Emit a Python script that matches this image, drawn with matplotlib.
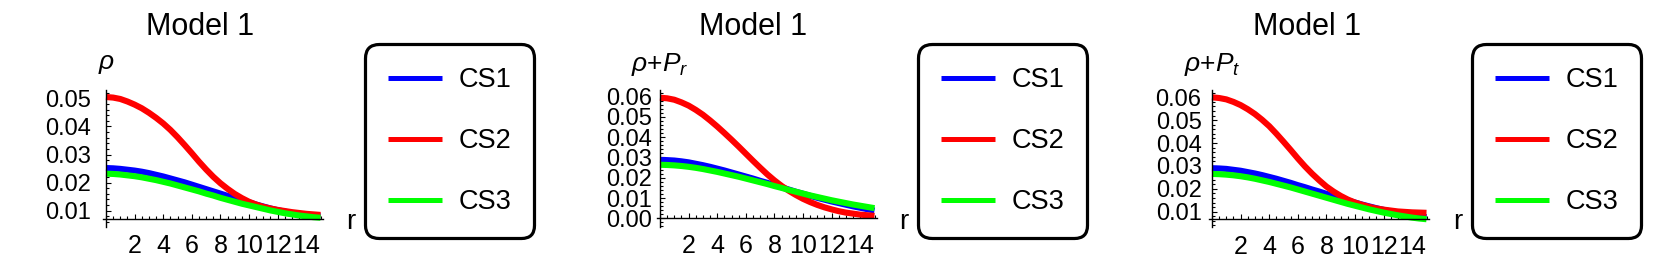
import matplotlib.pyplot as plt
import numpy as np
from matplotlib.ticker import MultipleLocator, FormatStrFormatter

plt.rcParams['font.family'] = ['Liberation Sans', 'DejaVu Sans']
plt.rcParams['mathtext.fontset'] = 'custom'
plt.rcParams['mathtext.rm'] = 'Liberation Sans'
plt.rcParams['mathtext.it'] = 'Liberation Sans:italic'

# radial coordinate, sampled every 0.5
r = np.arange(31) * 0.5

# panel 1: rho
rho_cs1 = [0.0252, 0.0251, 0.0249, 0.0246, 0.0243, 0.0239, 0.0234, 0.0228,
           0.0222, 0.0215, 0.0208, 0.0201, 0.0193, 0.0185, 0.0177, 0.0169,
           0.0161, 0.0153, 0.0145, 0.0137, 0.0130, 0.0122, 0.0115, 0.0108,
           0.0102, 0.0097, 0.0092, 0.0088, 0.0085, 0.0082, 0.0080]
rho_cs2 = [0.0505, 0.0503, 0.0498, 0.0489, 0.0478, 0.0465, 0.0449, 0.0431,
           0.0411, 0.0388, 0.0362, 0.0334, 0.0305, 0.0275, 0.0247, 0.0221,
           0.0198, 0.0178, 0.0160, 0.0145, 0.0132, 0.0122, 0.0114, 0.0108,
           0.0103, 0.0099, 0.0095, 0.0092, 0.0089, 0.0087, 0.0085]
rho_cs3 = [0.0232, 0.0231, 0.0229, 0.0226, 0.0223, 0.0219, 0.0214, 0.0209,
           0.0203, 0.0197, 0.0190, 0.0183, 0.0176, 0.0169, 0.0161, 0.0154,
           0.0146, 0.0139, 0.0132, 0.0125, 0.0119, 0.0113, 0.0107, 0.0101,
           0.0096, 0.0091, 0.0087, 0.0083, 0.0080, 0.0077, 0.0075]

# panel 2: rho + P_r
rpr_cs1 = [0.0288, 0.0287, 0.0285, 0.0281, 0.0276, 0.0269, 0.0262, 0.0254,
           0.0245, 0.0236, 0.0226, 0.0216, 0.0206, 0.0196, 0.0185, 0.0175,
           0.0164, 0.0153, 0.0142, 0.0131, 0.0121, 0.0111, 0.0101, 0.0092,
           0.0083, 0.0075, 0.0067, 0.0059, 0.0052, 0.0045, 0.0038]
rpr_cs2 = [0.0595, 0.0592, 0.0585, 0.0572, 0.0556, 0.0535, 0.0511, 0.0483,
           0.0453, 0.0421, 0.0388, 0.0354, 0.0319, 0.0284, 0.0250, 0.0217,
           0.0187, 0.0160, 0.0136, 0.0115, 0.0096, 0.0080, 0.0066, 0.0054,
           0.0044, 0.0035, 0.0028, 0.0023, 0.0018, 0.0015, 0.0012]
rpr_cs3 = [0.0264, 0.0263, 0.0261, 0.0258, 0.0254, 0.0249, 0.0243, 0.0236,
           0.0229, 0.0221, 0.0213, 0.0205, 0.0196, 0.0187, 0.0178, 0.0169,
           0.0159, 0.0150, 0.0140, 0.0131, 0.0122, 0.0113, 0.0105, 0.0097,
           0.0089, 0.0082, 0.0075, 0.0068, 0.0062, 0.0056, 0.0050]

# panel 3: rho + P_t
rpt_cs1 = [0.0290, 0.0289, 0.0287, 0.0283, 0.0279, 0.0273, 0.0267, 0.0260,
           0.0252, 0.0244, 0.0235, 0.0226, 0.0216, 0.0207, 0.0197, 0.0188,
           0.0178, 0.0168, 0.0159, 0.0149, 0.0140, 0.0131, 0.0123, 0.0115,
           0.0108, 0.0101, 0.0095, 0.0089, 0.0084, 0.0080, 0.0076]
rpt_cs2 = [0.0600, 0.0597, 0.0591, 0.0580, 0.0566, 0.0548, 0.0527, 0.0502,
           0.0474, 0.0441, 0.0406, 0.0370, 0.0333, 0.0298, 0.0266, 0.0237,
           0.0210, 0.0188, 0.0169, 0.0153, 0.0140, 0.0130, 0.0121, 0.0114,
           0.0109, 0.0105, 0.0101, 0.0099, 0.0097, 0.0096, 0.0095]
rpt_cs3 = [0.0265, 0.0264, 0.0262, 0.0259, 0.0255, 0.0250, 0.0244, 0.0237,
           0.0230, 0.0222, 0.0214, 0.0206, 0.0197, 0.0188, 0.0179, 0.0170,
           0.0161, 0.0152, 0.0143, 0.0134, 0.0126, 0.0118, 0.0110, 0.0103,
           0.0096, 0.0090, 0.0084, 0.0079, 0.0074, 0.0070, 0.0067]

labels = ["CS1", "CS2", "CS3"]
colors = ["#0000ff", "#ff0000", "#00ff00"]

W, H = 1661, 270
fig = plt.figure(figsize=(W / 100, H / 100), dpi=100)


def panel(yaxis_px, ylim, y0, yticks, ylabel, title_x, leg_xy, rlab_x, series, ypad):
    k = 14.3  # pixels per unit r
    x0 = yaxis_px - 0.2 * k
    x1 = yaxis_px + 15.15 * k
    ax = fig.add_axes([x0 / W, 1 - 227 / H, (x1 - x0) / W, (227 - 90) / H])
    ax.set_xlim(-0.2, 15.15)
    ax.set_ylim(*ylim)
    ax.patch.set_alpha(0)

    lines = []
    for vals, c, lab in zip(series, colors, labels):
        ln, = ax.plot(r, vals, color=c, lw=4.4, label=lab, clip_on=False,
                      solid_capstyle='butt')
        lines.append(ln)

    for s in ['top', 'right']:
        ax.spines[s].set_visible(False)
    ax.spines['left'].set_position(('data', 0))
    ax.spines['bottom'].set_position(('data', y0))
    for s in ['left', 'bottom']:
        ax.spines[s].set_linewidth(1.0)

    ax.set_xticks([2, 4, 6, 8, 10, 12, 14])
    ax.xaxis.set_minor_locator(MultipleLocator(0.5))
    ax.set_yticks(yticks)
    ax.yaxis.set_minor_locator(MultipleLocator(0.002))
    ax.yaxis.set_major_formatter(FormatStrFormatter('%.2f'))
    ax.tick_params(which='both', direction='in', width=0.8)
    ax.tick_params(which='major', length=3.8)
    ax.tick_params(which='minor', length=2.0)
    ax.tick_params(axis='x', labelsize=18, pad=11)
    ax.tick_params(axis='y', labelsize=17, pad=ypad)

    fig.text(title_x / W, 1 - 27 / H, "Model 1", fontsize=22,
             ha='center', va='center')
    fig.text(yaxis_px / W, 1 - 64 / H, ylabel, fontsize=19,
             ha='center', va='center')
    fig.text(rlab_x / W, 1 - 222 / H, "r", fontsize=20,
             ha='center', va='center')

    leg = ax.legend(lines, labels, loc='upper left',
                    bbox_to_anchor=(leg_xy[0] / W, 1 - leg_xy[1] / H),
                    bbox_transform=fig.transFigure, borderaxespad=0,
                    fontsize=19.5, handlelength=2.0, handletextpad=0.6,
                    labelspacing=1.3, borderpad=0.85, frameon=True,
                    fancybox=True, framealpha=1)
    frame = leg.get_frame()
    frame.set_edgecolor('black')
    frame.set_linewidth(2.3)
    frame.set_boxstyle('round,pad=0,rounding_size=0.5')
    for h in leg.legend_handles:
        h.set_linewidth(3.6)
    return ax


panel(106, (0.0042, 0.053), 0.00705, [0.01, 0.02, 0.03, 0.04, 0.05],
      r'$\rho$', 200, (365, 44), 351, [rho_cs1, rho_cs2, rho_cs3], 11)
panel(660, (-0.0043, 0.0633), 0.0, [0.0, 0.01, 0.02, 0.03, 0.04, 0.05, 0.06],
      r'$\rho$+$P_r$', 753, (918, 44), 904, [rpr_cs1, rpr_cs2, rpr_cs3], 6)
panel(1212, (0.0033, 0.0632), 0.0067, [0.01, 0.02, 0.03, 0.04, 0.05, 0.06],
      r'$\rho$+$P_t$', 1307, (1472, 44), 1458, [rpt_cs1, rpt_cs2, rpt_cs3], 7.5)

fig.savefig("out.png", dpi=100)
